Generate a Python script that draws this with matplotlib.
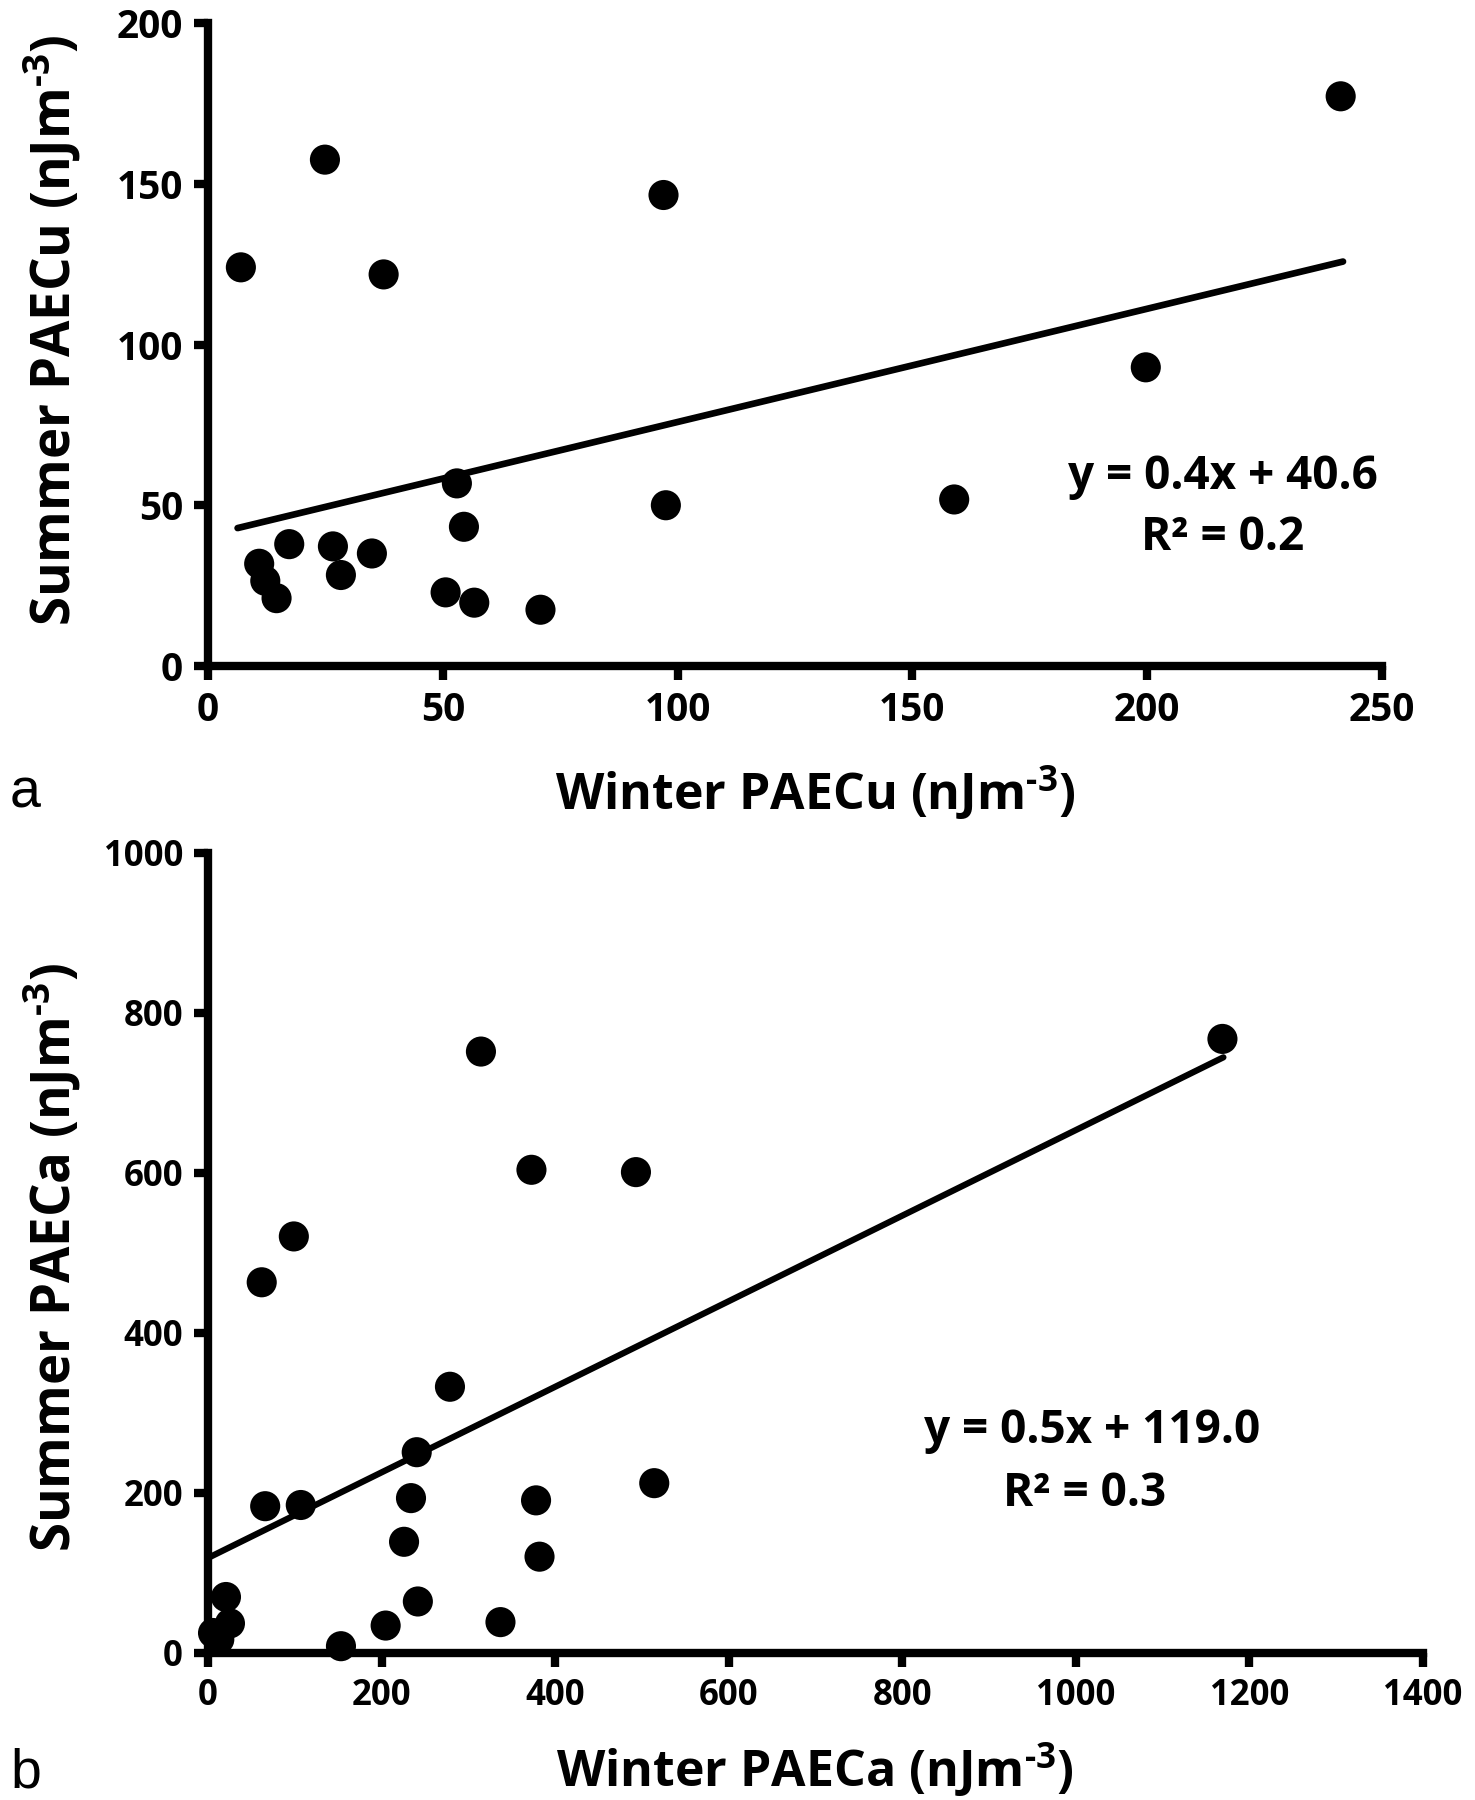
import matplotlib
matplotlib.use("Agg")
import matplotlib.pyplot as plt
import numpy as np

plt.rcParams['font.family'] = ['Open Sans', 'DejaVu Sans']
plt.rcParams['mathtext.fontset'] = 'custom'
plt.rcParams['mathtext.rm'] = 'Open Sans:bold'
plt.rcParams['mathtext.bf'] = 'Open Sans:bold'
plt.rcParams['mathtext.it'] = 'Open Sans:bold'
plt.rcParams['mathtext.default'] = 'bf'

# Panel a data
winter_cu = [7.0, 24.9, 37.4, 97.0, 241.2, 199.7, 158.9, 97.5, 53.0, 54.5,
             17.3, 26.6, 34.9, 10.9, 12.2, 28.3, 14.6, 50.6, 56.7, 70.8]
summer_cu = [124.0, 157.5, 121.8, 146.5, 177.2, 92.9, 51.8, 50.0, 56.8, 43.3,
             37.9, 37.2, 35.0, 31.8, 26.5, 28.3, 21.1, 22.9, 19.7, 17.5]
trend_a_x = [6.3, 241.7]
trend_a_y = [42.9, 125.8]
eq_a = ["y = 0.4x + 40.6", "R² = 0.2"]

# Panel b data
winter_ca = [1168.9, 314.5, 372.7, 493.1, 98.9, 61.9, 278.8, 240.5, 65.9, 106.9,
             233.9, 378.0, 514.2, 225.9, 382.0, 20.7, 241.8, 25.3, 5.8, 13.0,
             204.7, 337.0, 153.2]
summer_ca = [767.6, 751.8, 604.0, 601.1, 520.7, 463.4, 332.8, 251.0, 183.5, 185.0,
             193.6, 190.8, 212.3, 139.0, 120.4, 70.0, 64.4, 37.0, 25.0, 17.0,
             34.3, 38.6, 8.5]
trend_b_x = [0.0, 1170.0]
trend_b_y = [118.8, 744.6]
eq_b = ["y = 0.5x + 119.0", "R² = 0.3"]

xticks_a = [0, 50, 100, 150, 200, 250]
yticks_a = [0, 50, 100, 150, 200]
xticks_b = [0, 200, 400, 600, 800, 1000, 1200, 1400]
yticks_b = [0, 200, 400, 600, 800, 1000]

W, H = 1475, 1800
fig = plt.figure(figsize=(W / 100, H / 100), dpi=100)

def ax_rect(l, t, r, b):
    return [l / W, 1 - b / H, (r - l) / W, (b - t) / H]

ax_a = fig.add_axes(ax_rect(208, 23, 1382, 666))
ax_b = fig.add_axes(ax_rect(208, 853, 1423, 1653))

def style(ax, xt, yt, tick_fs):
    for s in ['top', 'right']:
        ax.spines[s].set_visible(False)
    for s in ['left', 'bottom']:
        ax.spines[s].set_linewidth(6)
        ax.spines[s].set_capstyle('projecting')
    ax.set_xticks(xt)
    ax.set_yticks(yt)
    ax.tick_params(direction='out', length=10, width=6, pad=8, labelsize=tick_fs)
    for lab in ax.get_xticklabels() + ax.get_yticklabels():
        lab.set_fontweight('bold')

ax_a.scatter(winter_cu, summer_cu, s=470, color='black', edgecolors='none', zorder=3, clip_on=False)
ax_a.plot(trend_a_x, trend_a_y, color='black', lw=4.8, solid_capstyle='round')
ax_a.set_xlim(0, 250)
ax_a.set_ylim(0, 200)
style(ax_a, xticks_a, yticks_a, 28)

ax_b.scatter(winter_ca, summer_ca, s=470, color='black', edgecolors='none', zorder=3, clip_on=False)
ax_b.plot(trend_b_x, trend_b_y, color='black', lw=4.5, solid_capstyle='round')
ax_b.set_xlim(0, 1400)
ax_b.set_ylim(0, 1000)
style(ax_b, xticks_b, yticks_b, 25)

def ftext(x, y, s, **kw):
    fig.text(x / W, 1 - y / H, s, **kw)

sup = r"$^{\text{-3}}$"
ftext(815, 810, "Winter PAECu (nJm" + sup + ")", ha='center', va='baseline', fontsize=36, fontweight='bold')
ftext(52, 330, "Summer PAECu (nJm" + sup + ")", ha='center', va='center', fontsize=38, fontweight='bold', rotation=90)
ftext(815, 1787, "Winter PAECa (nJm" + sup + ")", ha='center', va='baseline', fontsize=36, fontweight='bold')
ftext(52, 1258, "Summer PAECa (nJm" + sup + ")", ha='center', va='center', fontsize=38, fontweight='bold', rotation=90)

ftext(10, 808, "a", ha='left', va='baseline', fontsize=40, family='Liberation Sans')
ftext(10, 1787, "b", ha='left', va='baseline', fontsize=40, family='Liberation Sans')

ftext(1223, 477, eq_a[0], ha='center', va='center', fontsize=33, fontweight='bold')
ftext(1223, 538, eq_a[1], ha='center', va='center', fontsize=33, fontweight='bold')
ftext(1092, 1430, eq_b[0], ha='center', va='center', fontsize=33, fontweight='bold')
ftext(1085, 1493, eq_b[1], ha='center', va='center', fontsize=33, fontweight='bold')

fig.savefig("out.png", dpi=100, facecolor='white')
